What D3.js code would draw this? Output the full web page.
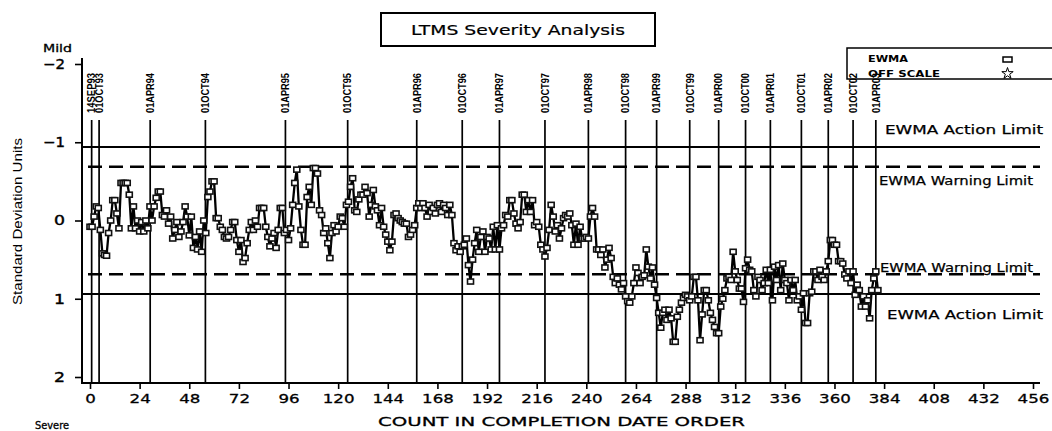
<!DOCTYPE html>
<html><head><meta charset="utf-8">
<script src="https://cdn.jsdelivr.net/npm/d3@7"></script>
<style>
html,body{margin:0;padding:0;background:#fff;}
svg{display:block;}
</style></head>
<body>
<svg id="chart" width="1052" height="431"></svg>
<script>
// ---------------- data ----------------
const titleText = "LTMS Severity Analysis";
const xTicks = [0,24,48,72,96,120,144,168,192,216,240,264,288,312,336,360,384,408,432,456];
const yTicks = [-2,-1,0,1,2];
const yTickLabels = ["\u22122","\u22121","0","1","2"];
const dateLabels = ["14SEP93","01OCT93","01APR94","01OCT94","01APR95","01OCT95","01APR96","01OCT96","01APR97","01OCT97","01APR98","01OCT98","01APR99","01OCT99","01APR00","01OCT00","01APR01","01OCT01","01APR02","01OCT02","01APR03"];
const dateCounts = [0.8,4.4,29.1,55.8,94.5,124.6,158,180,198,220,241,259,274,290,304,317,329,344,357,369,380];
const actionLimits = [-0.94, 0.94];
const warningLimits = [-0.687, 0.687];
const limitLabels = ["EWMA Action Limit","EWMA Warning Limit","EWMA Warning Limit","EWMA Action Limit"];
const legendItems = ["EWMA","OFF SCALE"];
const ewma = [
 0.08, 0.08,-0.05,-0.18,-0.16, 0.12, 0.42, 0.44, 0.45, 0.16,
 0.00,-0.26,-0.26,-0.09, 0.10,-0.48,-0.48,-0.48,-0.48,-0.33,
 0.10,-0.18, 0.10, 0.00, 0.14, 0.02, 0.14, 0.00, 0.10,-0.18,
 0.00,-0.18,-0.29,-0.37,-0.37,-0.07,-0.05,-0.13, 0.04,-0.05,
 0.23, 0.12, 0.02, 0.21, 0.14, 0.02,-0.18,-0.05, 0.19,-0.05,
 0.35, 0.21, 0.37, 0.14, 0.40, 0.00, 0.16,-0.30,-0.37,-0.50,
-0.50,-0.03,-0.03, 0.08, 0.12, 0.21, 0.23, 0.21, 0.12, 0.02,
 0.02, 0.25, 0.40, 0.25, 0.53, 0.48, 0.29, 0.12, 0.02, 0.12,
 0.00, 0.08,-0.16,-0.16,-0.16, 0.08, 0.21, 0.33, 0.23, 0.16,
 0.35, 0.12,-0.16,-0.16, 0.16, 0.12, 0.25, 0.10,-0.20,-0.48,
-0.65,-0.18, 0.12, 0.31, 0.31,-0.30,-0.43,-0.20,-0.67,-0.67,
-0.60,-0.13,-0.07, 0.16, 0.10, 0.29, 0.48, 0.16, 0.06, 0.14,
 0.08,-0.05,-0.03, 0.08,-0.20,-0.24,-0.43,-0.54,-0.13,-0.11,
-0.27,-0.33,-0.33,-0.43,-0.35,-0.05,-0.20,-0.39,-0.18,-0.13,
 0.06,-0.16, 0.08, 0.18, 0.27, 0.38, 0.27,-0.07,-0.09,-0.03,
 0.00, 0.02, 0.04, 0.04, 0.21, 0.18, 0.12, 0.06,-0.16,-0.22,
-0.16,-0.22,-0.16,-0.05,-0.20,-0.11,-0.16,-0.09,-0.20,-0.22,
-0.11,-0.20,-0.16,-0.07,-0.20,-0.07, 0.29, 0.38, 0.33, 0.40,
 0.33, 0.31, 0.23, 0.57, 0.78, 0.50, 0.29, 0.12, 0.40, 0.21,
 0.14, 0.40, 0.21, 0.23, 0.37, 0.08, 0.37, 0.06, 0.37, 0.10,
 0.06,-0.07,-0.05,-0.26,-0.26,-0.09, 0.04, 0.10, 0.02,-0.33,
-0.33,-0.11,-0.26,-0.11,-0.26, 0.06, 0.02, 0.08, 0.31, 0.37,
 0.46, 0.35, 0.12,-0.20,-0.05, 0.14, 0.06, 0.23, 0.10,-0.03,
-0.07,-0.05,-0.09, 0.06, 0.31, 0.04, 0.31, 0.08, 0.23, 0.23,
 0.21, 0.23,-0.05,-0.16,-0.05, 0.37, 0.37, 0.44, 0.37, 0.60,
 0.50, 0.35, 0.48, 0.72, 0.80, 0.74, 0.82, 0.88, 0.80, 0.97,
 1.03, 1.05, 0.97, 0.80, 0.60, 0.67, 0.80, 0.72, 0.70, 0.37,
 0.59, 0.74, 0.60, 0.82, 0.99, 1.18, 1.37, 1.18, 1.14, 1.27,
 1.14, 1.25, 1.55, 1.55, 1.23, 1.14, 1.05, 0.99, 0.95, 0.97,
 1.02, 0.97, 0.72, 0.72, 1.02, 1.53, 1.20, 0.89, 0.89, 1.02,
 1.18, 1.27, 1.36, 1.44, 1.44, 1.10, 1.00, 0.89, 0.74, 0.72,
 0.76, 0.40, 0.65, 0.76, 0.87, 0.87, 1.04, 0.61, 0.50, 0.63,
 0.65, 0.89, 0.97, 0.72, 0.76, 0.89, 0.80, 0.63, 0.80, 0.63,
 1.02, 0.59, 0.76, 0.57, 0.89, 0.55, 0.76, 0.80, 1.02, 0.76,
 0.89, 0.76, 1.02, 0.97, 1.14, 0.93, 1.31, 1.31, 0.93, 0.91,
 0.65, 0.65, 0.76, 0.63, 0.72, 0.76, 0.65, 0.52, 0.25, 0.25,
 0.31, 0.31, 0.52, 0.52, 0.55, 0.69, 0.74, 0.65, 0.80, 0.65,
 0.95, 0.82, 0.89, 1.10, 0.97, 1.10, 1.02, 1.25, 0.89, 0.74,
 0.65, 0.89
];

// ---------------- drawing ----------------
const svg = d3.select("#chart");
const FONT = "'DejaVu Sans', sans-serif";
const NARROW = "'Liberation Sans', Arial, sans-serif";

const x = d3.scaleLinear().domain([0,456]).range([90,1033]);
const y = d3.scaleLinear().domain([-2,2]).range([64,377]);

const axisLeftX = 82, axisBottomY = 383, plotRight = 1040;

// title box
const tb = svg.append("g");
tb.append("rect").attr("x",381).attr("y",13).attr("width",274).attr("height",33)
  .attr("fill","#fff").attr("stroke","#000").attr("stroke-width",2);
tb.append("text").attr("x",518).attr("y",35).attr("text-anchor","middle")
  .attr("font-family",FONT).attr("font-size",14).attr("stroke","#000").attr("stroke-width",0.2)
  .attr("textLength",214).attr("lengthAdjust","spacingAndGlyphs").text(titleText);

// limit lines
svg.selectAll("line.action").data(actionLimits).join("line").attr("class","action")
  .attr("x1",axisLeftX).attr("x2",plotRight)
  .attr("y1",d=>y(d)).attr("y2",d=>y(d))
  .attr("stroke","#000").attr("stroke-width",2);
svg.selectAll("line.warn").data(warningLimits).join("line").attr("class","warn")
  .attr("x1",axisLeftX+6).attr("x2",plotRight)
  .attr("y1",d=>y(d)).attr("y2",d=>y(d))
  .attr("stroke","#000").attr("stroke-width",2.4).attr("stroke-dasharray","14,7");

// limit labels
const labelSpec = [
  {v:actionLimits[0], dy:-13, x:885, w:158},
  {v:warningLimits[0], dy:18, x:879, w:154},
  {v:warningLimits[1], dy:-2, x:880, w:153},
  {v:actionLimits[1], dy:25, x:887, w:156}
];
svg.selectAll("text.lim").data(labelSpec).join("text").attr("class","lim")
  .attr("x",d=>d.x).attr("y",d=>y(d.v)+d.dy)
  .attr("font-family",FONT).attr("font-size",12.5).attr("stroke","#000").attr("stroke-width",0.25)
  .attr("textLength",d=>d.w).attr("lengthAdjust","spacingAndGlyphs")
  .text((d,i)=>limitLabels[i]);

// date reference lines
svg.selectAll("line.date").data(dateCounts).join("line").attr("class","date")
  .attr("x1",d=>x(d)).attr("x2",d=>x(d)).attr("y1",120).attr("y2",axisBottomY)
  .attr("stroke","#000").attr("stroke-width",1.7);

// series line
const line = d3.line().x((d,i)=>x(i)).y(d=>y(d));
svg.append("path").datum(ewma).attr("d",line)
  .attr("fill","none").attr("stroke","#000").attr("stroke-width",2.3).attr("stroke-linejoin","round");
svg.selectAll("rect.pt").data(ewma).join("rect").attr("class","pt")
  .attr("x",(d,i)=>x(i)-3).attr("y",d=>y(d)-2.5).attr("width",6).attr("height",5)
  .attr("fill","#fff").attr("stroke","#111").attr("stroke-width",1.6);

// x axis
const xAxisG = svg.append("g").attr("transform",`translate(0,${axisBottomY})`);
xAxisG.call(d3.axisBottom(x).tickValues(d3.range(0,457,6)).tickSize(3).tickFormat(""));
xAxisG.call(d3.axisBottom(x).tickValues(xTicks).tickSize(6).tickPadding(14).tickFormat(d3.format("d")));
xAxisG.selectAll(".domain").remove();
xAxisG.selectAll("line").attr("stroke","#000").attr("stroke-width",1.6);
xAxisG.selectAll("text").attr("font-family",FONT).attr("font-size",13).attr("fill","#000")
  .attr("stroke","#000").attr("stroke-width",0.3).attr("dy","0")
  .attr("textLength",function(){return this.textContent.length*10.6;}).attr("lengthAdjust","spacingAndGlyphs");
svg.append("line").attr("x1",axisLeftX).attr("x2",plotRight).attr("y1",axisBottomY).attr("y2",axisBottomY)
  .attr("stroke","#000").attr("stroke-width",2);

// y axis
const yAxisG = svg.append("g").attr("transform",`translate(${axisLeftX},0)`);
yAxisG.call(d3.axisLeft(y).tickValues(d3.range(-2,2.001,0.2)).tickSize(4).tickFormat(""));
yAxisG.call(d3.axisLeft(y).tickValues(yTicks).tickSize(7).tickPadding(10).tickFormat((d,i)=>yTickLabels[i]));
yAxisG.selectAll(".domain").remove();
yAxisG.selectAll("line").attr("stroke","#000").attr("stroke-width",1.6);
yAxisG.selectAll("text").attr("font-family",FONT).attr("font-size",13.5).attr("fill","#000")
  .attr("stroke","#000").attr("stroke-width",0.4)
  .attr("textLength",function(){return this.textContent.length*11;}).attr("lengthAdjust","spacingAndGlyphs");
svg.append("line").attr("x1",axisLeftX).attr("x2",axisLeftX).attr("y1",58).attr("y2",axisBottomY+1)
  .attr("stroke","#000").attr("stroke-width",2);

// axis titles
svg.append("text").attr("x",43).attr("y",52).attr("font-family",FONT).attr("font-size",10.5)
  .attr("stroke","#000").attr("stroke-width",0.3)
  .attr("textLength",29).attr("lengthAdjust","spacingAndGlyphs").text("Mild");
svg.append("text").attr("x",35).attr("y",429).attr("font-family",FONT).attr("font-size",10)
  .attr("stroke","#000").attr("stroke-width",0.3)
  .attr("textLength",34).attr("lengthAdjust","spacingAndGlyphs").text("Severe");
svg.append("text").attr("x",378).attr("y",426).attr("font-family",FONT).attr("font-size",12.5)
  .attr("stroke","#000").attr("stroke-width",0.3)
  .attr("textLength",367).attr("lengthAdjust","spacingAndGlyphs").text("COUNT IN COMPLETION DATE ORDER");
svg.append("text").attr("transform","translate(22,305) rotate(-90)")
  .attr("font-family",NARROW).attr("font-size",13.5)
  .attr("textLength",167).attr("lengthAdjust","spacingAndGlyphs").text("Standard Deviation Units");

// legend
const lg = svg.append("g");
lg.append("rect").attr("x",847).attr("y",48).attr("width",210).attr("height",31)
  .attr("fill","#fff").attr("stroke","#000").attr("stroke-width",1.5);
lg.selectAll("text").data(legendItems).join("text")
  .attr("x",868).attr("y",(d,i)=>62+i*15)
  .attr("font-family",FONT).attr("font-size",9.5).attr("font-weight","bold")
  .attr("textLength",(d)=>d==="EWMA"?40:72).attr("lengthAdjust","spacingAndGlyphs")
  .text(d=>d);
lg.append("rect").attr("x",1003).attr("y",57).attr("width",9).attr("height",5)
  .attr("fill","#fff").attr("stroke","#000").attr("stroke-width",1.5);
lg.append("path").attr("d",d3.symbol(d3.symbolStar,40)()).attr("transform","translate(1007.5,73.5)")
  .attr("fill","#fff").attr("stroke","#000").attr("stroke-width",1);

// date labels (drawn last: they overlap the legend as in the reference)
svg.selectAll("text.date").data(dateCounts).join("text").attr("class","date")
  .attr("transform",d=>`translate(${x(d)+3.8},113) rotate(-90)`)
  .attr("font-family",NARROW).attr("font-size",11).attr("font-weight","bold")
  .attr("textLength",40).attr("lengthAdjust","spacingAndGlyphs")
  .text((d,i)=>dateLabels[i]);
</script>
</body></html>
